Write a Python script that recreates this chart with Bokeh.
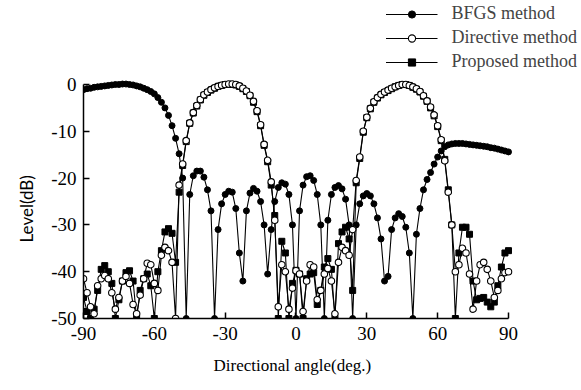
import numpy as np
from bokeh.plotting import figure
from bokeh.models import Range1d, Legend, LegendItem, FixedTicker, ColumnDataSource, Title
from bokeh.embed import file_html
from bokeh.resources import INLINE

# sampling angles (deg), every 1.5 degrees from -90 to 90
angles = np.linspace(-90, 90, 121)

bfgs = [-1.1, -0.9, -0.8, -0.6, -0.5, -0.4, -0.3, -0.2, -0.1, 0.0,
        0.0, 0.1, 0.1, 0.0, -0.1, -0.3, -0.5, -0.8, -1.1, -1.5,
        -2.0, -2.8, -3.8, -5.0, -6.6, -8.8, -11.5, -14.8, -20.0, -50,
        -23.5, -19.5, -18.5, -18.5, -19.8, -22.5, -27.0, -50, -31.0, -25.5,
        -23.5, -22.8, -23.0, -26.5, -36.0, -42.0, -27.0, -23.2, -22.2, -22.8,
        -25.0, -30.0, -40.5, -31.0, -25.0, -22.0, -21.0, -21.3, -23.5, -30.0,
        -50, -27.0, -21.5, -19.7, -19.5, -20.5, -23.5, -30.0, -50, -29.0,
        -23.5, -22.0, -21.6, -22.3, -24.5, -30.0, -50, -30.0, -25.5, -23.8,
        -23.3, -23.8, -25.5, -28.5, -33.0, -42.0, -41.0, -31.0, -28.5, -27.6,
        -28.2, -30.5, -36.0, -50, -32.0, -26.5, -22.5, -20.3, -18.8, -17.0,
        -15.5, -14.2, -13.3, -12.9, -12.7, -12.6, -12.6, -12.6, -12.7, -12.8,
        -12.9, -13.0, -13.1, -13.2, -13.3, -13.5, -13.6, -13.8, -14.0, -14.2,
        -14.4]

directive = [-41.5, -44.5, -47.5, -49.0, -43.0, -41.5, -40.8, -41.5, -44.5, -48.0,
             -45.5, -42.0, -41.0, -42.5, -47.0, -49.0, -45.0, -41.5, -38.2, -38.5,
             -42.5, -44.0, -36.5, -34.8, -35.5, -38.0, -50, -21.5, -17.0, -12.0,
             -8.2, -6.0, -4.5, -3.2, -2.2, -1.6, -1.1, -0.7, -0.4, -0.15,
             0.0, 0.1, 0.1, 0.0, -0.3, -0.8, -1.4, -2.3, -3.6, -5.6,
             -8.6, -12.8, -16.2, -20.8, -29.0, -47.5, -38.5, -40.0, -48.0, -43.5,
             -39.8, -40.5, -48.5, -42.0, -38.5, -39.0, -46.0, -44.0, -40.5, -39.3,
             -42.0, -49.0, -38.0, -34.8, -35.5, -36.5, -31.0, -20.5, -15.5, -10.0,
             -7.0, -5.1, -3.7, -2.8, -2.1, -1.6, -1.2, -0.8, -0.5, -0.2,
             0.0, 0.0, -0.2, -0.5, -0.9, -1.5, -2.4, -3.5, -4.8, -6.5,
             -8.8, -11.8, -16.3, -23.0, -30.0, -40.0, -38.5, -35.0, -36.0, -40.5,
             -48.0, -42.0, -38.5, -38.0, -39.5, -42.0, -45.5, -44.0, -41.5, -40.2,
             -40.0]

proposed = [-45.5, -48.5, -50, -48.0, -44.0, -39.5, -38.7, -40.0, -42.5, -50,
            -46.0, -42.0, -40.2, -39.8, -42.0, -50, -44.0, -41.5, -40.5, -43.0,
            -50, -40.0, -35.5, -31.5, -30.8, -31.8, -38.0, -23.0, -17.3, -12.2,
            -8.3, -6.1, -4.6, -3.3, -2.3, -1.7, -1.2, -0.8, -0.4, -0.2,
            0.0, 0.0, 0.0, -0.1, -0.4, -0.9, -1.5, -2.4, -3.8, -5.8,
            -8.8, -13.0, -16.5, -21.5, -28.0, -50, -33.5, -36.0, -50, -42.5,
            -39.7, -40.5, -50, -41.5, -40.5, -40.2, -47.0, -44.0, -39.0, -37.2,
            -39.5, -50, -34.0, -31.5, -30.5, -33.0, -44.0, -21.0, -15.8, -10.2,
            -7.1, -5.2, -3.8, -2.9, -2.2, -1.7, -1.3, -0.9, -0.5, -0.2,
            0.0, 0.0, -0.2, -0.6, -1.0, -1.6, -2.5, -3.6, -5.0, -6.7,
            -9.0, -12.0, -16.0, -22.5, -30.0, -50, -36.0, -30.5, -30.5, -32.0,
            -42.0, -46.0, -45.7, -45.5, -46.5, -47.5, -46.5, -43.0, -39.0, -36.0,
            -35.5]

x_ticks = [-90, -60, -30, 0, 30, 60, 90]
x_tick_labels = ["-90", "-60", "-30", "0", "30", "60", "90"]
y_ticks = [-50, -40, -30, -20, -10, 0]
y_tick_labels = ["-50", "-40", "-30", "-20", "-10", "0"]

SERIF = "Liberation Serif"

p = figure(width=580, height=388, output_backend="svg", toolbar_location=None,
           x_range=Range1d(-90, 120.5), y_range=Range1d(-50, 17.95),
           min_border_left=83, min_border_right=0, min_border_top=0,
           min_border_bottom=70)
p.outline_line_color = None
p.xgrid.visible = False
p.ygrid.visible = False
p.background_fill_color = "white"
p.border_fill_color = "white"

src_b = ColumnDataSource(dict(x=angles, y=bfgs))
src_d = ColumnDataSource(dict(x=angles, y=directive))
src_p = ColumnDataSource(dict(x=angles, y=proposed))

lb = p.line("x", "y", source=src_b, line_color="black", line_width=1.1)
sb = p.scatter("x", "y", source=src_b, marker="circle", size=6,
               fill_color="black", line_color="black")
lp = p.line("x", "y", source=src_p, line_color="black", line_width=1.1)
sp = p.scatter("x", "y", source=src_p, marker="square", size=6,
               fill_color="black", line_color="black")
ld = p.line("x", "y", source=src_d, line_color="black", line_width=1.1)
sd = p.scatter("x", "y", source=src_d, marker="circle", size=6.5,
               fill_color="white", line_color="black", line_width=1.1)

legend = Legend(items=[
    LegendItem(label="BFGS method", renderers=[lb, sb]),
    LegendItem(label="Directive method", renderers=[ld, sd]),
    LegendItem(label="Proposed method", renderers=[lp, sp]),
], location="top_right")
legend.margin = 3
legend.padding = 0
legend.spacing = 3
legend.glyph_width = 52
legend.glyph_height = 18
legend.label_height = 18
legend.label_standoff = 14
legend.label_text_font = SERIF
legend.label_text_font_size = "18px"
legend.background_fill_alpha = 0
legend.border_line_color = None
p.add_layout(legend)

xax = p.xaxis[0]
yax = p.yaxis[0]
for ax in (xax, yax):
    ax.axis_line_width = 1.5
    ax.axis_line_color = "black"
    ax.major_tick_in = 6
    ax.major_tick_out = 0
    ax.major_tick_line_width = 1.5
    ax.minor_tick_line_color = None
    ax.major_label_text_font = SERIF
    ax.major_label_text_font_size = "19px"
    ax.major_label_text_color = "black"

xax.bounds = (-90, 90)
yax.bounds = (-50, 0)
xax.ticker = FixedTicker(ticks=x_ticks)
yax.ticker = FixedTicker(ticks=y_ticks)
xax.major_label_overrides = {t: s for t, s in zip(x_ticks, x_tick_labels)}
yax.major_label_overrides = {t: s for t, s in zip(y_ticks, y_tick_labels)}
xax.major_label_standoff = 8
yax.major_label_standoff = 7

# axis titles as side-panel titles so they can sit off-centre like the original
xtitle = Title(text="Directional angle(deg.)", align="left", offset=130,
               text_font=SERIF, text_font_size="17px", text_color="black",
               text_font_style="normal", standoff=22)
ytitle = Title(text="Level(dB)", align="left", offset=76,
               text_font="Lato", text_font_size="17px", text_color="black",
               text_font_style="normal", standoff=24)
p.add_layout(xtitle, "below")
p.add_layout(ytitle, "left")

open("out.html", "w").write(file_html(p, INLINE))
